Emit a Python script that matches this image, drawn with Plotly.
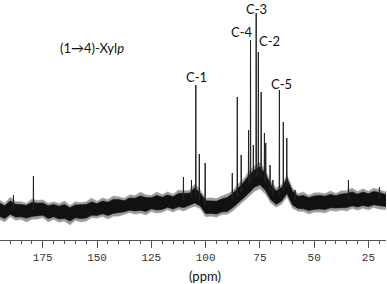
import numpy as np
import plotly.graph_objects as go

# ---- data (ppm, intensity in arbitrary units) ----
grid_ppm = [195, 192.5, 190, 187.5, 185, 182.5, 180, 177.5, 175, 172.5,
            170, 167.5, 165, 162.5, 160, 157.5, 155, 152.5, 150, 147.5,
            145, 142.5, 140, 137.5, 135, 132.5, 130, 127.5, 125, 122.5,
            120, 117.5, 115, 112.5, 110, 107.5, 105, 102.5, 100, 97.5,
            95, 92.5, 90, 87.5, 85, 82.5, 80, 77.5, 75, 72.5,
            70, 67.5, 65, 62.5, 60, 57.5, 55, 52.5, 50, 47.5,
            45, 42.5, 40, 37.5, 35, 32.5, 30, 27.5, 25, 22.5,
            20, 17.5, 15]
baseline = [10, 9, 11, 10, 9, 10, 10, 11, 10, 9,
            9, 8, 8, 7, 8, 9, 9, 10, 11, 12,
            12, 13, 14, 14, 15, 16, 16, 16, 17, 17,
            17, 18, 18, 19, 20, 21, 24, 20, 14, 13,
            13, 14, 15, 20, 24, 30, 36, 42, 44, 38,
            28, 22, 26, 34, 22, 18, 17, 17, 17, 18,
            18, 18, 19, 19, 20, 20, 20, 21, 21, 21,
            21, 20, 20]
noise_up = [12, 9, 14, 10, 11, 8, 13, 10, 12, 9,
            11, 10, 13, 9, 12, 10, 11, 14, 9, 12,
            10, 13, 11, 9, 12, 10, 14, 11, 9, 13,
            10, 12, 9, 13, 11, 10, 14, 12, 9, 11,
            10, 12, 13, 11, 14, 13, 15, 14, 16, 14,
            13, 12, 11, 13, 12, 10, 13, 9, 12, 11,
            10, 13, 9, 12, 11, 14, 10, 12, 9, 13,
            11, 10, 12]
noise_down = [11, 13, 9, 12, 10, 14, 11, 12, 9, 13,
              10, 12, 11, 14, 10, 13, 12, 9, 11, 10,
              13, 11, 12, 10, 9, 12, 11, 13, 10, 12,
              11, 9, 12, 10, 13, 11, 12, 10, 13, 11,
              12, 10, 11, 13, 12, 14, 15, 16, 15, 14,
              13, 11, 12, 13, 12, 11, 10, 13, 11, 12,
              13, 10, 12, 11, 13, 10, 12, 11, 13, 10,
              12, 11, 12]

peak_ppm = [188.5, 179.3, 110.2, 106.5, 104.5, 102.9, 100.2, 87.7, 85.4, 83.6,
            80.2, 79.3, 78.0, 76.7, 75.7, 74.4, 72.9, 72.3, 70.3, 69.0,
            66.0, 64.2, 62.6, 58.8, 34.2, 19.9]
peak_int = [25, 44, 43, 40, 135, 66, 57, 47, 123, 65,
            90, 180, 75, 207, 168, 128, 87, 77, 55, 40,
            130, 98, 82, 30, 40, 33]

labels = ["C-1", "C-4", "C-3", "C-2", "C-5"]
label_ppm = [104.4, 83.3, 76.7, 70.6, 64.9]
label_int = [143, 188, 211.5, 179, 136]

title_text = "(1→4)-Xyl<i>p</i>"
title_ppm, title_int = 152.4, 172

tick_vals = [175, 150, 125, 100, 75, 50, 25]
tick_text = ["175", "150", "125", "100", "75", "50", "25"]

# ---- derived drawing arrays ----
gp = np.array(grid_ppm)
bl = np.array(baseline, dtype=float)
up = np.array(noise_up, dtype=float)
dn = np.array(noise_down, dtype=float)

fig = go.Figure()
# outer grey fringe of noise
fig.add_trace(go.Scatter(x=gp, y=bl - 0.85 * dn, mode="lines", line=dict(width=0.5, color="#b0b0b0"),
                         hoverinfo="skip", showlegend=False))
fig.add_trace(go.Scatter(x=gp, y=bl + 0.85 * up, mode="lines", line=dict(width=0.5, color="#b0b0b0"),
                         fill="tonexty", fillcolor="#9a9a9a", hoverinfo="skip", showlegend=False))
# dense black core of noise
fig.add_trace(go.Scatter(x=gp, y=bl - 0.58 * dn, mode="lines", line=dict(width=0.6, color="#111"),
                         hoverinfo="skip", showlegend=False))
fig.add_trace(go.Scatter(x=gp, y=bl + 0.58 * up, mode="lines", line=dict(width=0.6, color="#111"),
                         fill="tonexty", fillcolor="#111", hoverinfo="skip", showlegend=False))

# peaks as thin sticks
px, py = [], []
gp_rev = gp[::-1]
bl_rev = bl[::-1]
for p, h in zip(peak_ppm, peak_int):
    foot = float(np.interp(p, gp_rev, bl_rev))
    px += [p + 0.12, p, p - 0.12, None]
    py += [foot, h, foot, None]
fig.add_trace(go.Scatter(x=px, y=py, mode="lines", line=dict(width=1, color="#222"),
                         hoverinfo="skip", showlegend=False))

for t, x, y in zip(labels, label_ppm, label_int):
    fig.add_annotation(x=x, y=y, text=t, showarrow=False, xanchor="center", yanchor="middle",
                       font=dict(family="Lato", size=13, color="#111"))
fig.add_annotation(x=title_ppm, y=title_int, text=title_text, showarrow=False,
                   xanchor="center", yanchor="middle",
                   font=dict(family="Lato", size=13, color="#111"))
fig.add_annotation(x=0.53, y=-0.15, xref="paper", yref="paper", text="(ppm)", showarrow=False,
                   xanchor="center", yanchor="middle",
                   font=dict(family="Lato", size=13, color="#111"))

fig.update_layout(
    width=387, height=284,
    margin=dict(l=0, r=1, t=0, b=44),
    paper_bgcolor="white", plot_bgcolor="white",
    template="none",
    showlegend=False,
    xaxis=dict(range=[194.7, 16.9], showgrid=False, zeroline=False,
               showline=True, linecolor="#555", linewidth=1,
               tickmode="array", tickvals=tick_vals, ticktext=tick_text,
               ticks="outside", ticklen=7, tickcolor="#555", tickwidth=1,
               tickfont=dict(family="Liberation Mono", size=11, color="#333"),
               minor=dict(dtick=5, tick0=0, ticks="outside", ticklen=3, tickcolor="#555", tickwidth=1),
               automargin=False, fixedrange=True),
    yaxis=dict(range=[-20, 220], visible=False, automargin=False, fixedrange=True),
)

fig.write_html("out.html", config={"displayModeBar": False},
               post_script="document.body.style.margin='0';document.body.style.padding='0';document.body.style.overflow='hidden';")
